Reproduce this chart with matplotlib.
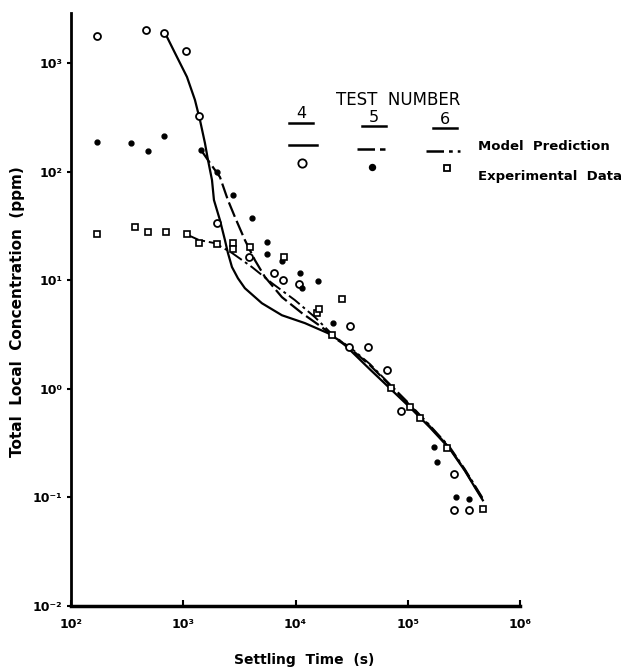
import matplotlib
matplotlib.use("Agg")
import matplotlib.pyplot as plt
from matplotlib.lines import Line2D

# settling time (s) / concentration (ppm) for each test
TEST4_T = [170, 466, 673, 1057, 1381, 1990, 3850, 6430, 7760, 10740,
           30510, 29900, 44300, 65400, 86400, 257000, 257000, 353000]
TEST4_C = [1780, 2013, 1888, 1290, 325, 33.5, 16.3, 11.6, 10.0, 9.18,
           3.77, 2.42, 2.42, 1.48, 0.62, 0.163, 0.076, 0.077]

TEST5_T = [170, 342, 485, 673, 1438, 1990, 2771, 4090, 5550, 5550, 7560,
           10900, 15800, 11450, 21600, 170000, 181000, 268000, 350000]
TEST5_C = [187, 183, 155, 212, 158, 98.9, 60.7, 37.2, 22.4, 17.4, 15.0,
           11.6, 9.8, 8.4, 4.02, 0.289, 0.210, 0.100, 0.096]

TEST6_T = [170, 371, 485, 702, 1080, 1381, 1990, 2771, 2771, 3930, 7860,
           15500, 16130, 25700, 21000, 71400, 104400, 128000, 223000, 466400]
TEST6_C = [26.5, 30.8, 27.7, 27.7, 26.5, 21.9, 21.5, 21.9, 19.3, 20.1, 16.3,
           4.97, 5.41, 6.68, 3.11, 1.01, 0.675, 0.534, 0.283, 0.078]

# model prediction curves
MODEL4_T = [687, 843, 1079, 1271, 1409, 1560, 1660, 1803, 1877, 2123, 2351,
            2500, 2716, 3071, 3540, 5020, 7570, 12130, 19450, 25880, 45970,
            69280, 104400, 157300, 237100, 322500, 395900, 466400]
MODEL4_C = [1891, 1236, 743, 456, 298, 183, 128, 83.6, 54.6, 35.7, 23.4,
            17.8, 13.2, 10.4, 8.43, 6.13, 4.75, 4.02, 3.25, 2.69, 1.51,
            1.01, 0.675, 0.441, 0.279, 0.176, 0.124, 0.094]

MODEL5_T = [1438, 1729, 2123, 2500, 2886, 3540, 4345, 5340, 7570, 11410,
            17180, 23860, 30510, 45970, 69280, 104400, 157300, 237100,
            322500, 395900, 466400]
MODEL5_C = [158, 120, 88.9, 54.6, 38.1, 23.4, 15.3, 10.7, 6.97, 4.97,
            3.69, 2.80, 2.36, 1.65, 1.08, 0.705, 0.451, 0.283, 0.178,
            0.126, 0.096]

MODEL6_T = [1057, 1381, 1914, 2716, 4090, 6170, 9890, 14900, 22450, 30510,
            45970, 69280, 104400, 157300, 237100, 322500, 395900, 466400]
MODEL6_C = [26.5, 23.4, 21.9, 17.8, 13.2, 9.38, 6.54, 4.56, 2.99, 2.41,
            1.69, 1.10, 0.72, 0.46, 0.29, 0.182, 0.129, 0.098]

X_TICKS = [1e2, 1e3, 1e4, 1e5, 1e6]
X_LABELS = ["10²", "10³", "10⁴", "10⁵", "10⁶"]
Y_TICKS = [1e-2, 1e-1, 1e0, 1e1, 1e2, 1e3]
Y_LABELS = ["10⁻²", "10⁻¹", "10⁰", "10¹", "10²", "10³"]

W, H = 633, 671
DASHED = (0, (7, 2))
DASHDOT = (0, (7, 2, 1.5, 2))


def px(x, y):
  return x / W, 1 - y / H


def main():
  plt.rcParams["font.family"] = ["DejaVu Sans"]
  fig = plt.figure(figsize=(W / 100, H / 100), dpi=100)
  ax = fig.add_axes([71 / W, 1 - 606 / H, (520 - 71) / W, (606 - 13) / H])

  ax.plot(MODEL4_T, MODEL4_C, color="black", lw=1.6, ls="-")
  ax.plot(MODEL5_T, MODEL5_C, color="black", lw=1.6, ls=DASHED)
  ax.plot(MODEL6_T, MODEL6_C, color="black", lw=1.4, ls=DASHDOT)

  ax.plot(TEST4_T, TEST4_C, ls="none", marker="o", ms=5, mfc="white",
          mec="black", mew=1.3)
  ax.plot(TEST5_T, TEST5_C, ls="none", marker="o", ms=3.5, mfc="black",
          mec="black")
  ax.plot(TEST6_T, TEST6_C, ls="none", marker="s", ms=4, mfc="white",
          mec="black", mew=1.2)

  ax.set_xscale("log")
  ax.set_yscale("log")
  ax.set_xlim(1e2, 1e6)
  ax.set_ylim(1e-2, 2880)
  ax.minorticks_off()
  ax.set_xticks(X_TICKS)
  ax.set_xticklabels(X_LABELS, fontsize=9, fontweight="bold")
  ax.set_yticks(Y_TICKS)
  ax.set_yticklabels(Y_LABELS, fontsize=9, fontweight="bold")
  ax.tick_params(axis="x", direction="in", length=4, width=1.5, pad=9)
  ax.tick_params(axis="y", direction="out", length=3, width=1.5, pad=3)

  for side in ["top", "right"]:
    ax.spines[side].set_visible(False)
  ax.spines["left"].set_linewidth(2)
  ax.spines["bottom"].set_linewidth(2.5)
  ax.patch.set_alpha(0)

  fig.text(*px(18, 312), "Total  Local  Concentration  (ppm)", rotation=90,
           ha="center", va="center", fontsize=11, fontweight="bold")
  fig.text(*px(304, 660), "Settling  Time  (s)", ha="center", va="center",
           fontsize=10, fontweight="bold")

  # key: test numbers, line styles and markers
  fig.text(*px(398, 100), "TEST  NUMBER", ha="center", va="center",
           fontsize=12)
  for num, cx, uy in [("4", 301, 123), ("5", 374, 126), ("6", 445, 128)]:
    fig.text(*px(cx, uy - 9), num, ha="center", va="center", fontsize=11.5)
    x0, y0 = px(cx - 12, uy)
    x1, y1 = px(cx + 12, uy)
    fig.add_artist(Line2D([x0, x1], [y0, y1], color="black", lw=1.8,
                          transform=fig.transFigure))

  for (xa, xb, ya, style) in [(289, 317, 145, "-"), (357, 385, 149, DASHED),
                              (426, 460, 151, DASHDOT)]:
    x0, y0 = px(xa, ya)
    x1, y1 = px(xb, ya)
    fig.add_artist(Line2D([x0, x1], [y0, y1], color="black", lw=1.8,
                          ls=style, transform=fig.transFigure))

  for (mx, my, mk, ms, fc) in [(302, 163, "o", 6, "white"),
                               (372, 167, "o", 4, "black"),
                               (447, 168, "s", 4.5, "white")]:
    x0, y0 = px(mx, my)
    fig.add_artist(Line2D([x0], [y0], ls="none", marker=mk, ms=ms, mfc=fc,
                          mec="black", mew=1.3, transform=fig.transFigure))

  fig.text(*px(478, 147), "Model  Prediction", ha="left", va="center",
           fontsize=9.5, fontweight="bold")
  fig.text(*px(478, 176), "Experimental  Data", ha="left", va="center",
           fontsize=9.5, fontweight="bold")

  fig.savefig("out.png", dpi=100)
  plt.close(fig)


if __name__ == "__main__":
  main()
